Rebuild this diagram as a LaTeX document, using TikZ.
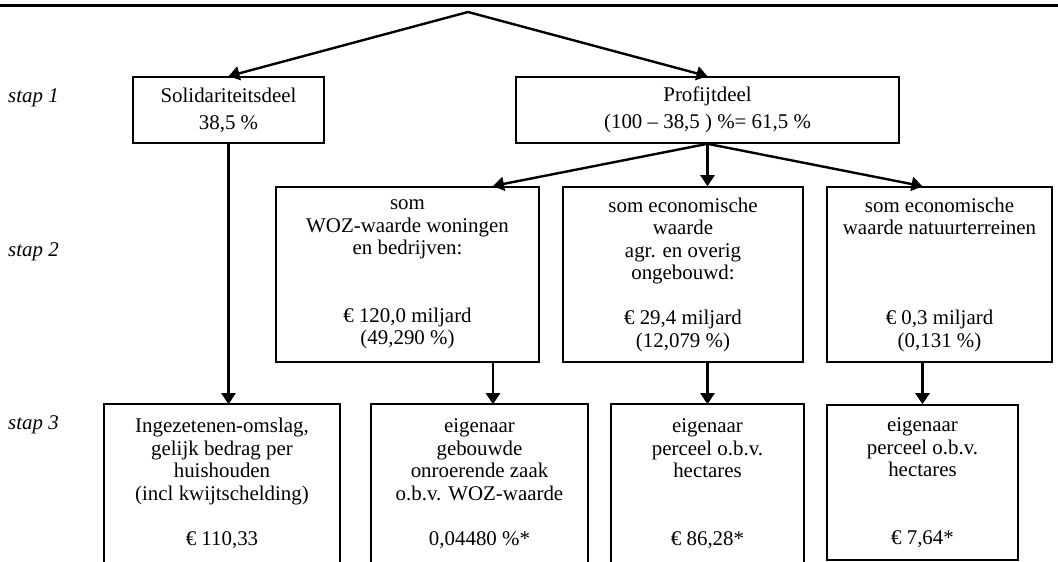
\documentclass[tikz,border=0pt]{standalone}
\usepackage{fontspec}
\setmainfont{Liberation Serif}
\usetikzlibrary{arrows.meta}

\tikzset{
  blok/.style={draw, line width=1.6pt, align=center, inner sep=0pt,
    font=\fontsize{20.9}{22.5}\selectfont},
  pijl/.style={line width=2.4pt, -{Triangle[length=11pt,width=14pt]}},
  stap/.style={anchor=west, inner sep=0pt, font=\fontsize{20.9}{22.5}\selectfont\itshape},
}

\begin{document}
\begin{tikzpicture}[x=1pt, y=-1pt]
  \useasboundingbox (0,0) rectangle (1058,562);
  \clip (0,0) rectangle (1058,562);
  \draw[line width=3pt] (0,5) -- (1058,5);

  \node[stap] (s1) at (8,98) {stap 1};
  \node[stap] (s2) at (8,252) {stap 2};
  \node[stap] (s3) at (8,425) {stap 3};

  % stap 1
  \node[blok, minimum width=191pt, minimum height=66pt] (sol) at (228.5,110)
    {Solidariteitsdeel\\[4.6pt]38,5 \%};
  \node[blok, minimum width=383pt, minimum height=66pt] (prof) at (707.5,110)
    {Profijtdeel\\[4.6pt](100 – 38,5 ) \%= 61,5 \%};

  % stap 2
  \node[blok, minimum width=263pt, minimum height=175pt] (woz) at (407.5,274.5)
    {som\\WOZ-waarde woningen\\en bedrijven:\\[45pt]€ 120,0 miljard\\(49,290 \%)};
  \node[blok, minimum width=240pt, minimum height=175pt] (eco) at (683,274.5)
    {som economische\\waarde\\agr. en overig\\ongebouwd:\\[22.5pt]€ 29,4 miljard\\(12,079 \%)};
  \node[blok, minimum width=225pt, minimum height=175pt] (nat) at (939.5,274.5)
    {som economische\\waarde natuurterreinen\\[67.5pt]€ 0,3 miljard\\(0,131 \%)};

  % stap 3
  \node[blok, draw=none, minimum width=234pt, minimum height=157pt] (ing) at (222,483.5)
    {Ingezetenen-omslag,\\gelijk bedrag per\\huishouden\\(incl kwijtschelding)\\[22.5pt]€ 110,33};
  \node[blok, draw=none, minimum width=215pt, minimum height=157pt] (eig) at (479.5,483.5)
    {eigenaar\\gebouwde\\onroerende zaak\\o.b.v. WOZ-waarde\\[22.5pt]0,04480 \%*};
  \node[blok, draw=none, minimum width=191pt, minimum height=157pt] (perc) at (707.5,483.5)
    {eigenaar\\perceel o.b.v.\\hectares\\[45pt]€ 86,28*};
  \node[blok, minimum width=191pt, minimum height=155pt] (nperc) at (922.5,482.5)
    {eigenaar\\perceel o.b.v.\\hectares\\[45pt]€ 7,64*};
  \foreach \n in {ing,eig,perc}
    \draw[line width=1.6pt] ([yshift=-10pt]\n.south west) |- (\n.north east)
      -- ([yshift=-10pt]\n.south east);

  \coordinate (top) at (468,12);
  \coordinate (k1) at (493,186);
  \draw[pijl] (top) -- (sol.north);
  \draw[pijl] (top) -- (prof.north);
  \draw[pijl] (prof.south) -- (k1);
  \draw[pijl] (prof.south) -- (eco.north -| prof.south);
  \draw[pijl] (prof.south) -- (nat.north -| nperc.north);

  \draw[pijl] (sol.south) -- (sol.south |- ing.north);
  \draw[pijl] (k1 |- woz.south) -- (k1 |- eig.north);
  \draw[pijl] (eco.south -| perc.north) -- (perc.north);
  \draw[pijl] (nat.south -| nperc.north) -- (nperc.north);
\end{tikzpicture}
\end{document}
